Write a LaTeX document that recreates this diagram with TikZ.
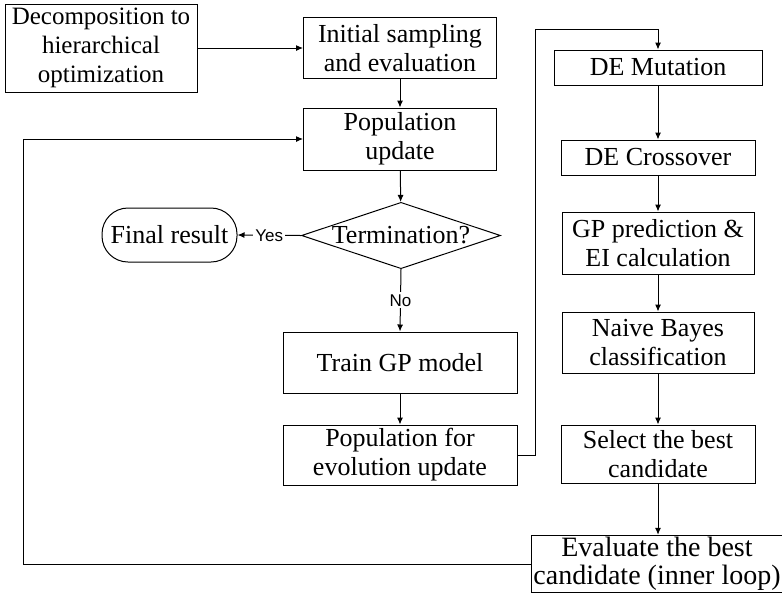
\documentclass[tikz,border=0pt]{standalone}
\usepackage{fontspec}
\setmainfont{Liberation Serif}
\setsansfont{Liberation Sans}
\usetikzlibrary{positioning,arrows.meta,shapes.geometric}

\begin{document}
\begin{tikzpicture}[x=0.5pt, y=-0.5pt,
  every node/.style={font=\fontsize{13}{14.5}\selectfont},
  box/.style={draw, line width=0.5pt, align=center, inner sep=1pt},
  decision/.style={draw, diamond, aspect=3, line width=0.5pt, inner sep=0.5pt,
    minimum width=99pt, minimum height=32.5pt},
  terminal/.style={box, rounded corners=13pt},
  arr/.style={-{Latex[length=3.5pt,width=3pt]}, line width=0.5pt},
  lbl/.style={font=\sffamily\fontsize{8.5}{10}\selectfont, fill=white, inner sep=1pt}]
  \useasboundingbox (0,0) rectangle (782,596);

  % main column
  \node[box, minimum width=96pt, minimum height=44pt, font=\fontsize{12.5}{14.5}\selectfont]
    (decomp) at (101,48) {Decomposition to\\hierarchical\\optimization};
  \node[box, minimum width=96.5pt, minimum height=30.5pt] (init) at (400,48)
    {Initial sampling\\and evaluation};
  \node[box, minimum width=96.5pt, minimum height=31pt] (popupd) at (400,139)
    {Population\\update};
  \node[decision] (term) at (401,235.5) {Termination?};
  \node[terminal, minimum width=67.5pt, minimum height=27pt] (final) at (169.5,235)
    {Final result};
  \node[box, minimum width=117pt, minimum height=30.5pt] (train) at (400,362.5)
    {Train GP model};
  \node[box, minimum width=117pt, minimum height=30pt] (popevo) at (400,455)
    {Population for\\evolution update};

  % inner loop
  \node[box, minimum width=104pt, minimum height=17.5pt] (mut) at (658,67.5)
    {DE Mutation};
  \node[box, minimum width=97pt, minimum height=17.5pt] (cross) at (658,157.5)
    {DE Crossover};
  \node[box, minimum width=96pt, minimum height=31pt] (gpp) at (658,243)
    {GP prediction \&\\EI calculation};
  \node[box, minimum width=96pt, minimum height=30.5pt] (nb) at (658,342.5)
    {Naive Bayes\\classification};
  \node[box, minimum width=97pt, minimum height=29pt] (sel) at (658,454)
    {Select the best\\candidate};
  \node[box, minimum width=124pt, minimum height=28pt, font=\fontsize{14}{14}\selectfont]
    (eval) at (657,564) {Evaluate the best\\candidate (inner loop)};

  \coordinate (up) at (535,29);
  \coordinate (back) at (23,139);

  \draw[arr] (decomp.east) -- (decomp.east -| init.west);
  \draw[arr] (init) -- (popupd);
  \draw[arr] (popupd) -- (term);
  \draw[arr] (term.west) -- node[lbl] {Yes} (final.east);
  \draw[arr] (term.south) -- node[lbl] {No} (train.north);
  \draw[arr] (train) -- (popevo);
  \draw[arr] (popevo.east) -| (up) -| (mut.north);
  \draw[arr] (mut) -- (cross);
  \draw[arr] (cross) -- (gpp);
  \draw[arr] (gpp) -- (nb);
  \draw[arr] (nb) -- (sel);
  \draw[arr] (sel) -- (sel.south |- eval.north);
  \draw[arr] (eval.west) -| (back) -- (popupd.west);
\end{tikzpicture}
\end{document}
